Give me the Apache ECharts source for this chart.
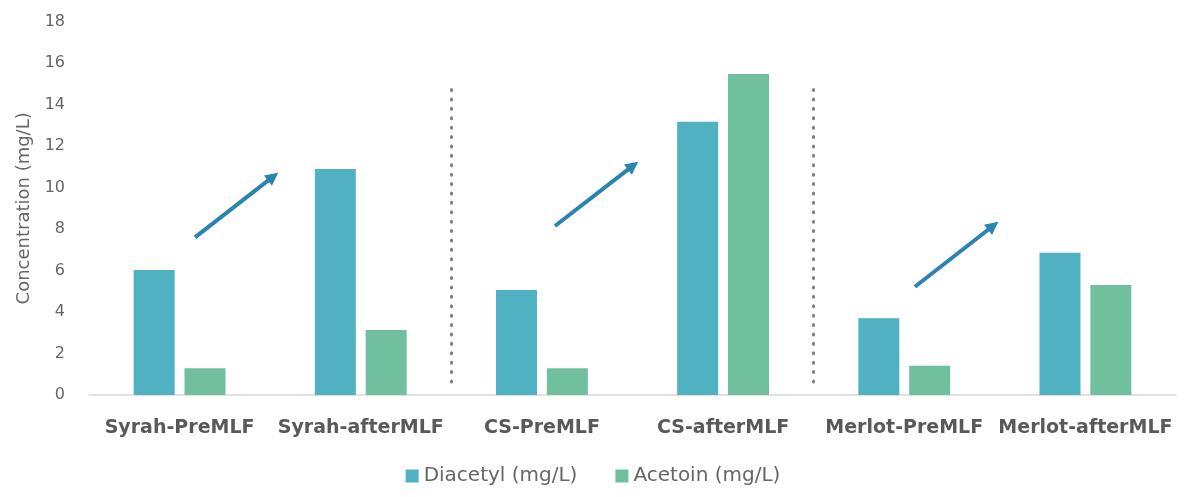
<!DOCTYPE html>
<html>
<head>
<meta charset="utf-8">
<script src="https://cdn.jsdelivr.net/npm/echarts@6/dist/echarts.min.js"></script>
<style>html,body{margin:0;padding:0;background:#fff}#c{width:1186px;height:497px}</style>
</head>
<body>
<div id="c"></div>
<script>
const categories = ['Syrah-PreMLF','Syrah-afterMLF','CS-PreMLF','CS-afterMLF','Merlot-PreMLF','Merlot-afterMLF'];
const diacetyl = [6.03, 10.90, 5.06, 13.18, 3.70, 6.86];
const acetoin = [1.29, 3.13, 1.29, 15.48, 1.41, 5.30];
const yTicks = [0, 18, 2];
// arrow annotations: [xStart, yStart, xEnd, yEnd] in category-index / value units
const arrows = [[0.085, 7.60, 0.516, 10.53], [2.072, 8.15, 2.503, 11.06], [4.059, 5.22, 4.491, 8.16]];
// dotted separators: [x, yFrom, yTo]
const separators = [[1.5, 0.63, 14.8], [3.5, 0.63, 14.8]];

const chart = echarts.init(document.getElementById('c'));
const font = 'DejaVu Sans';
chart.setOption({
  animation: false,
  backgroundColor: '#fff',
  grid: { left: 89, right: 10, top: 21.7, bottom: 102, containLabel: false },
  legend: {
    data: ['Diacetyl (mg/L)', 'Acetoin (mg/L)'],
    bottom: 6, left: 'center',
    itemWidth: 13, itemHeight: 13, itemGap: 38,
    icon: 'rect',
    textStyle: { fontFamily: font, fontSize: 20, color: '#666666' }
  },
  xAxis: [{
    type: 'category', data: categories,
    axisLine: { lineStyle: { color: '#d9d9d9', width: 1.5 } },
    axisTick: { show: false },
    axisLabel: { fontFamily: font, fontWeight: 'bold', fontSize: 19, color: '#595959', margin: 24, interval: 0 }
  }, {
    type: 'value', min: -0.5, max: 5.5, show: false
  }],
  yAxis: {
    type: 'value', min: yTicks[0], max: yTicks[1], interval: yTicks[2],
    name: 'Concentration (mg/L)', nameLocation: 'middle', nameGap: 56,
    nameTextStyle: { fontFamily: font, fontSize: 18, color: '#666666' },
    axisLine: { show: false }, axisTick: { show: false }, splitLine: { show: false },
    axisLabel: { fontFamily: font, fontSize: 16, color: '#666666', margin: 24 }
  },
  series: [
    { name: 'Diacetyl (mg/L)', type: 'bar', data: diacetyl, barWidth: 41, barGap: '24%', itemStyle: { color: '#4fb1c2' } },
    { name: 'Acetoin (mg/L)', type: 'bar', data: acetoin, barWidth: 41, itemStyle: { color: '#70bf9f' } },
    {
      type: 'line', xAxisIndex: 1, yAxisIndex: 0, data: [], silent: true,
      markLine: {
        silent: true, animation: false,
        symbol: ['none', 'triangle'], symbolSize: [13, 13],
        label: { show: false },
        lineStyle: { color: '#2b83b0', width: 4, type: 'solid', opacity: 1 },
        emphasis: { disabled: true },
        data: arrows.map(a => [{ coord: [a[0], a[1]] }, { coord: [a[2], a[3]] }])
      }
    },
    {
      type: 'lines', coordinateSystem: 'cartesian2d', xAxisIndex: 1, yAxisIndex: 0,
      symbol: 'none',
      lineStyle: { color: '#808080', width: 3, opacity: 1, type: [1, 8.4], cap: 'round' },
      data: separators.map(s => ({ coords: [[s[0], s[1]], [s[0], s[2]]] }))
    }
  ]
});
</script>
</body>
</html>
